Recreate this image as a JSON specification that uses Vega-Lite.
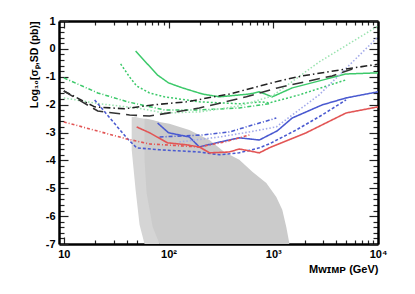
{
  "$schema": "https://vega.github.io/schema/vega-lite/v6.json",
  "width": 319,
  "height": 223,
  "autosize": "none",
  "padding": {"left": 59, "top": 21, "right": 37, "bottom": 50},
  "background": "white",
  "config": {
    "view": {"stroke": null},
    "font": "Liberation Sans",
    "axis": {
      "grid": false,
      "domainColor": "#000000",
      "domainWidth": 2.5,
      "tickColor": "#222222",
      "tickWidth": 1.2,
      "labelFont": "Liberation Sans",
      "labelFontWeight": "bold",
      "labelFontSize": 11,
      "labelColor": "#000000",
      "titleFont": "Liberation Sans",
      "titleFontWeight": "bold",
      "titleFontSize": 11,
      "titleColor": "#000000",
      "labelOverlap": false,
      "labelFlush": false,
      "labelBound": false,
      "zindex": 1
    }
  },
  "datasets": {
    "speckle": [
      {"m": 44.5, "top": -2.44, "bottom": -3.62},
      {"m": 48.5, "top": -2.44, "bottom": -5.06},
      {"m": 52.9, "top": -2.48, "bottom": -6.31},
      {"m": 59, "top": -2.51, "bottom": -7},
      {"m": 82.1, "top": -2.62, "bottom": -7}
    ],
    "cloud": [
      {"m": 59, "top": -2.51, "bottom": -3.98},
      {"m": 61.7, "top": -2.51, "bottom": -5.16},
      {"m": 70.5, "top": -2.55, "bottom": -6.38},
      {"m": 82.1, "top": -2.62, "bottom": -7},
      {"m": 102, "top": -2.69, "bottom": -7},
      {"m": 158, "top": -2.91, "bottom": -7},
      {"m": 246, "top": -3.27, "bottom": -7},
      {"m": 341, "top": -3.70, "bottom": -7},
      {"m": 474, "top": -3.98, "bottom": -7},
      {"m": 631, "top": -4.41, "bottom": -7},
      {"m": 858, "top": -4.81, "bottom": -7},
      {"m": 1069, "top": -5.31, "bottom": -7},
      {"m": 1219, "top": -5.77, "bottom": -7},
      {"m": 1330, "top": -6.38, "bottom": -7},
      {"m": 1420, "top": -6.95, "bottom": -7}
    ],
    "limits": [
      {"s": "G1", "m": 48.5, "v": -0.08}, {"s": "G1", "m": 78.6, "v": -0.94}, {"s": "G1", "m": 100, "v": -1.22}, {"s": "G1", "m": 136, "v": -1.40}, {"s": "G1", "m": 211, "v": -1.62}, {"s": "G1", "m": 306, "v": -1.72}, {"s": "G1", "m": 591, "v": -1.62}, {"s": "G1", "m": 736, "v": -1.54}, {"s": "G1", "m": 978, "v": -1.72}, {"s": "G1", "m": 1517, "v": -1.40}, {"s": "G1", "m": 4955, "v": -0.90}, {"s": "G1", "m": 10000, "v": -0.86},
      {"s": "G2", "m": 34.9, "v": -0.54}, {"s": "G2", "m": 42.5, "v": -1.01}, {"s": "G2", "m": 49.6, "v": -1.33}, {"s": "G2", "m": 65.9, "v": -1.58}, {"s": "G2", "m": 91.6, "v": -1.72}, {"s": "G2", "m": 197, "v": -1.90}, {"s": "G2", "m": 474, "v": -1.97}, {"s": "G2", "m": 769, "v": -1.90}, {"s": "G2", "m": 916, "v": -1.94}, {"s": "G2", "m": 1770, "v": -1.65}, {"s": "G2", "m": 4955, "v": -1.11},
      {"s": "G3", "m": 10, "v": -1.04}, {"s": "G3", "m": 21.1, "v": -1.58}, {"s": "G3", "m": 40.7, "v": -1.90}, {"s": "G3", "m": 91.6, "v": -2.19}, {"s": "G3", "m": 197, "v": -2.19}, {"s": "G3", "m": 474, "v": -2.12}, {"s": "G3", "m": 916, "v": -1.97},
      {"s": "G4", "m": 10, "v": -1.76}, {"s": "G4", "m": 22, "v": -1.97}, {"s": "G4", "m": 49.6, "v": -2.12}, {"s": "G4", "m": 91.6, "v": -2.30}, {"s": "G4", "m": 197, "v": -2.26}, {"s": "G4", "m": 474, "v": -2.05}, {"s": "G4", "m": 978, "v": -1.69}, {"s": "G4", "m": 2742, "v": -0.47}, {"s": "G4", "m": 10000, "v": 0.82},
      {"s": "K1", "m": 10, "v": -1.51}, {"s": "K1", "m": 19.7, "v": -2.08}, {"s": "K1", "m": 38.1, "v": -2.15}, {"s": "K1", "m": 70.5, "v": -2.01}, {"s": "K1", "m": 148, "v": -1.90}, {"s": "K1", "m": 381, "v": -1.62}, {"s": "K1", "m": 1141, "v": -1.15}, {"s": "K1", "m": 1890, "v": -0.97}, {"s": "K1", "m": 4254, "v": -0.76}, {"s": "K1", "m": 10000, "v": -0.55},
      {"s": "K2", "m": 10, "v": -1.51}, {"s": "K2", "m": 21.1, "v": -2.23}, {"s": "K2", "m": 42.5, "v": -2.37}, {"s": "K2", "m": 65.9, "v": -2.41}, {"s": "K2", "m": 197, "v": -2.12}, {"s": "K2", "m": 553, "v": -1.72}, {"s": "K2", "m": 1092, "v": -1.40}, {"s": "K2", "m": 3648, "v": -0.97}, {"s": "K2", "m": 6166, "v": -0.68},
      {"s": "B1", "m": 78.6, "v": -2.66}, {"s": "B1", "m": 100, "v": -3.01}, {"s": "B1", "m": 158, "v": -3.16}, {"s": "B1", "m": 197, "v": -3.52}, {"s": "B1", "m": 286, "v": -3.37}, {"s": "B1", "m": 474, "v": -3.19}, {"s": "B1", "m": 736, "v": -3.27}, {"s": "B1", "m": 1092, "v": -2.94}, {"s": "B1", "m": 1517, "v": -2.48}, {"s": "B1", "m": 2929, "v": -2.01}, {"s": "B1", "m": 4955, "v": -1.76}, {"s": "B1", "m": 10000, "v": -1.54},
      {"s": "B2", "m": 19.7, "v": -1.83}, {"s": "B2", "m": 39.8, "v": -3.19}, {"s": "B2", "m": 49.6, "v": -3.55}, {"s": "B2", "m": 82.1, "v": -3.62}, {"s": "B2", "m": 197, "v": -3.70}, {"s": "B2", "m": 306, "v": -3.80}, {"s": "B2", "m": 474, "v": -3.73}, {"s": "B2", "m": 736, "v": -3.55}, {"s": "B2", "m": 916, "v": -3.41}, {"s": "B2", "m": 1656, "v": -2.91}, {"s": "B2", "m": 2929, "v": -2.37}, {"s": "B2", "m": 4955, "v": -1.83},
      {"s": "B3", "m": 82.1, "v": -3.16}, {"s": "B3", "m": 211, "v": -3.09}, {"s": "B3", "m": 381, "v": -2.98}, {"s": "B3", "m": 1069, "v": -2.48},
      {"s": "B4", "m": 127, "v": -3.34}, {"s": "B4", "m": 306, "v": -3.16}, {"s": "B4", "m": 591, "v": -2.98}, {"s": "B4", "m": 1069, "v": -2.80}, {"s": "B4", "m": 2742, "v": -1.65}, {"s": "B4", "m": 10000, "v": 0.43},
      {"s": "R1", "m": 49.6, "v": -2.80}, {"s": "R1", "m": 65.9, "v": -3.01}, {"s": "R1", "m": 97.8, "v": -3.37}, {"s": "R1", "m": 148, "v": -3.44}, {"s": "R1", "m": 197, "v": -3.52}, {"s": "R1", "m": 246, "v": -3.73}, {"s": "R1", "m": 381, "v": -3.70}, {"s": "R1", "m": 474, "v": -3.59}, {"s": "R1", "m": 736, "v": -3.73}, {"s": "R1", "m": 916, "v": -3.55}, {"s": "R1", "m": 2062, "v": -3.01}, {"s": "R1", "m": 4955, "v": -2.30}, {"s": "R1", "m": 10000, "v": -2.08},
      {"s": "R2", "m": 10, "v": -2.62}, {"s": "R2", "m": 39.8, "v": -3.23}, {"s": "R2", "m": 65.9, "v": -3.41}, {"s": "R2", "m": 197, "v": -3.52}, {"s": "R2", "m": 341, "v": -3.34}, {"s": "R2", "m": 591, "v": -3.09}
    ]
  },
  "layer": [
    {
      "data": {"name": "speckle"},
      "mark": {"type": "area", "color": "#d5d5d5", "orient": "vertical"},
      "encoding": {
        "x": {
          "field": "m", "type": "quantitative",
          "scale": {"type": "log", "domain": [9, 10000], "nice": false},
          "axis": {
            "orient": "bottom", "offset": -7, "domain": false, "ticks": true, "tickSize": 7,
            "values": [10, 100, 1000, 10000],
            "labelPadding": 4,
            "labelExpr": "datum.value == 10 ? '10' : datum.value == 100 ? '10²' : datum.value == 1000 ? '10³' : '10⁴'",
            "title": "Mᴡɪᴍᴘ (GeV)", "titleAnchor": "end", "titleAlign": "right", "titlePadding": 4
          }
        },
        "y": {
          "field": "top", "type": "quantitative",
          "scale": {"domain": [-7, 1], "nice": false, "zero": false},
          "axis": {
            "orient": "left", "offset": -9, "domain": false, "ticks": true, "tickSize": 9,
            "values": [-7, -6, -5, -4, -3, -2, -1, 0, 1],
            "labelPadding": 4,
            "labelExpr": "'' + datum.value",
            "title": "Log₁₀[σₚ,SD (pb)]", "titleAnchor": "end", "titlePadding": 6, "titleFontSize": 10.5
          }
        },
        "y2": {"field": "bottom"}
      }
    },
    {
      "data": {"name": "cloud"},
      "mark": {"type": "area", "color": "#cbcbcb", "orient": "vertical"},
      "encoding": {
        "x": {
          "field": "m", "type": "quantitative",
          "scale": {"type": "log", "domain": [9, 10000], "nice": false},
          "axis": {
            "orient": "bottom", "offset": -4, "domain": false, "ticks": true, "tickSize": 4, "labels": false, "title": null,
            "values": [20, 30, 40, 50, 60, 70, 80, 90, 200, 300, 400, 500, 600, 700, 800, 900, 2000, 3000, 4000, 5000, 6000, 7000, 8000, 9000]
          }
        },
        "y": {
          "field": "top", "type": "quantitative",
          "scale": {"domain": [-7, 1], "nice": false, "zero": false},
          "axis": {
            "orient": "left", "offset": -5, "domain": false, "ticks": true, "tickSize": 5, "labels": false, "title": null,
            "values": [-6.8, -6.6, -6.4, -6.2, -5.8, -5.6, -5.4, -5.2, -4.8, -4.6, -4.4, -4.2, -3.8, -3.6, -3.4, -3.2, -2.8, -2.6, -2.4, -2.2, -1.8, -1.6, -1.4, -1.2, -0.8, -0.6, -0.4, -0.2, 0.2, 0.4, 0.6, 0.8]
          }
        },
        "y2": {"field": "bottom"}
      }
    },
    {
      "data": {"name": "limits"},
      "transform": [{"filter": "indexof(['G1', 'G2', 'G3', 'G4'], datum.s) >= 0"}],
      "mark": {"type": "line", "interpolate": "linear", "clip": true},
      "encoding": {
        "x": {
          "field": "m", "type": "quantitative",
          "scale": {"type": "log", "domain": [9, 10000], "nice": false},
          "axis": {"orient": "top", "offset": -7, "domain": false, "ticks": true, "tickSize": 7, "labels": false, "title": null, "values": [10, 100, 1000, 10000]}
        },
        "y": {
          "field": "v", "type": "quantitative",
          "scale": {"domain": [-7, 1], "nice": false, "zero": false},
          "axis": {"orient": "right", "offset": -9, "domain": false, "ticks": true, "tickSize": 9, "labels": false, "title": null, "values": [-7, -6, -5, -4, -3, -2, -1, 0, 1]}
        },
        "color": {"field": "s", "type": "nominal", "legend": null, "scale": {"domain": ["G1", "G2", "G3", "G4", "K1", "K2", "B1", "B2", "B3", "B4", "R1", "R2"], "range": ["#3cc96a", "#3cc96a", "#3cc96a", "#9be3b0", "#222222", "#333333", "#4a5ad0", "#4a5ad0", "#4a5ad0", "#a3aaea", "#e25555", "#e25555"]}},
        "strokeDash": {"field": "s", "type": "nominal", "legend": null, "scale": {"domain": ["G1", "G2", "G3", "G4", "K1", "K2", "B1", "B2", "B3", "B4", "R1", "R2"], "range": [[1, 0], [2, 2], [4, 2, 1, 2], [1.5, 2], [7, 3, 1.5, 3], [11, 6], [1, 0], [3, 2], [4, 2, 1, 2], [1.5, 2], [1, 0], [3, 2, 1, 2]]}},
        "strokeWidth": {"field": "s", "type": "nominal", "legend": null, "scale": {"domain": ["G1", "G2", "G3", "G4", "K1", "K2", "B1", "B2", "B3", "B4", "R1", "R2"], "range": [1.5, 1.6, 1.4, 1.1, 1.4, 1.7, 1.5, 1.5, 1.4, 1.1, 1.4, 1.4]}}
      }
    },
    {
      "data": {"name": "limits"},
      "transform": [{"filter": "indexof(['B1', 'B2', 'B3', 'B4'], datum.s) >= 0"}],
      "mark": {"type": "line", "interpolate": "linear", "clip": true},
      "encoding": {
        "x": {
          "field": "m", "type": "quantitative",
          "scale": {"type": "log", "domain": [9, 10000], "nice": false},
          "axis": {
            "orient": "top", "offset": -4, "domain": false, "ticks": true, "tickSize": 4, "labels": false, "title": null,
            "values": [20, 30, 40, 50, 60, 70, 80, 90, 200, 300, 400, 500, 600, 700, 800, 900, 2000, 3000, 4000, 5000, 6000, 7000, 8000, 9000]
          }
        },
        "y": {
          "field": "v", "type": "quantitative",
          "scale": {"domain": [-7, 1], "nice": false, "zero": false},
          "axis": {
            "orient": "right", "offset": -5, "domain": false, "ticks": true, "tickSize": 5, "labels": false, "title": null,
            "values": [-6.8, -6.6, -6.4, -6.2, -5.8, -5.6, -5.4, -5.2, -4.8, -4.6, -4.4, -4.2, -3.8, -3.6, -3.4, -3.2, -2.8, -2.6, -2.4, -2.2, -1.8, -1.6, -1.4, -1.2, -0.8, -0.6, -0.4, -0.2, 0.2, 0.4, 0.6, 0.8]
          }
        },
        "color": {"field": "s", "type": "nominal", "legend": null, "scale": {"domain": ["G1", "G2", "G3", "G4", "K1", "K2", "B1", "B2", "B3", "B4", "R1", "R2"], "range": ["#3cc96a", "#3cc96a", "#3cc96a", "#9be3b0", "#222222", "#333333", "#4a5ad0", "#4a5ad0", "#4a5ad0", "#a3aaea", "#e25555", "#e25555"]}},
        "strokeDash": {"field": "s", "type": "nominal", "legend": null, "scale": {"domain": ["G1", "G2", "G3", "G4", "K1", "K2", "B1", "B2", "B3", "B4", "R1", "R2"], "range": [[1, 0], [2, 2], [4, 2, 1, 2], [1.5, 2], [7, 3, 1.5, 3], [11, 6], [1, 0], [3, 2], [4, 2, 1, 2], [1.5, 2], [1, 0], [3, 2, 1, 2]]}},
        "strokeWidth": {"field": "s", "type": "nominal", "legend": null, "scale": {"domain": ["G1", "G2", "G3", "G4", "K1", "K2", "B1", "B2", "B3", "B4", "R1", "R2"], "range": [1.5, 1.6, 1.4, 1.1, 1.4, 1.7, 1.5, 1.5, 1.4, 1.1, 1.4, 1.4]}}
      }
    },
    {
      "data": {"name": "limits"},
      "transform": [{"filter": "indexof(['R1', 'R2'], datum.s) >= 0"}],
      "mark": {"type": "line", "interpolate": "linear", "clip": true},
      "encoding": {
        "x": {
          "field": "m", "type": "quantitative",
          "scale": {"type": "log", "domain": [9, 10000], "nice": false},
          "axis": {"orient": "bottom", "domain": true, "ticks": false, "labels": false, "title": null}
        },
        "y": {
          "field": "v", "type": "quantitative",
          "scale": {"domain": [-7, 1], "nice": false, "zero": false},
          "axis": {"orient": "left", "domain": true, "ticks": false, "labels": false, "title": null}
        },
        "color": {"field": "s", "type": "nominal", "legend": null, "scale": {"domain": ["G1", "G2", "G3", "G4", "K1", "K2", "B1", "B2", "B3", "B4", "R1", "R2"], "range": ["#3cc96a", "#3cc96a", "#3cc96a", "#9be3b0", "#222222", "#333333", "#4a5ad0", "#4a5ad0", "#4a5ad0", "#a3aaea", "#e25555", "#e25555"]}},
        "strokeDash": {"field": "s", "type": "nominal", "legend": null, "scale": {"domain": ["G1", "G2", "G3", "G4", "K1", "K2", "B1", "B2", "B3", "B4", "R1", "R2"], "range": [[1, 0], [2, 2], [4, 2, 1, 2], [1.5, 2], [7, 3, 1.5, 3], [11, 6], [1, 0], [3, 2], [4, 2, 1, 2], [1.5, 2], [1, 0], [3, 2, 1, 2]]}},
        "strokeWidth": {"field": "s", "type": "nominal", "legend": null, "scale": {"domain": ["G1", "G2", "G3", "G4", "K1", "K2", "B1", "B2", "B3", "B4", "R1", "R2"], "range": [1.5, 1.6, 1.4, 1.1, 1.4, 1.7, 1.5, 1.5, 1.4, 1.1, 1.4, 1.4]}}
      }
    },
    {
      "data": {"name": "limits"},
      "transform": [{"filter": "indexof(['K1', 'K2'], datum.s) >= 0"}],
      "mark": {"type": "line", "interpolate": "linear", "clip": true},
      "encoding": {
        "x": {
          "field": "m", "type": "quantitative",
          "scale": {"type": "log", "domain": [9, 10000], "nice": false},
          "axis": {"orient": "top", "domain": true, "ticks": false, "labels": false, "title": null}
        },
        "y": {
          "field": "v", "type": "quantitative",
          "scale": {"domain": [-7, 1], "nice": false, "zero": false},
          "axis": {"orient": "right", "domain": true, "ticks": false, "labels": false, "title": null}
        },
        "color": {"field": "s", "type": "nominal", "legend": null, "scale": {"domain": ["G1", "G2", "G3", "G4", "K1", "K2", "B1", "B2", "B3", "B4", "R1", "R2"], "range": ["#3cc96a", "#3cc96a", "#3cc96a", "#9be3b0", "#222222", "#333333", "#4a5ad0", "#4a5ad0", "#4a5ad0", "#a3aaea", "#e25555", "#e25555"]}},
        "strokeDash": {"field": "s", "type": "nominal", "legend": null, "scale": {"domain": ["G1", "G2", "G3", "G4", "K1", "K2", "B1", "B2", "B3", "B4", "R1", "R2"], "range": [[1, 0], [2, 2], [4, 2, 1, 2], [1.5, 2], [7, 3, 1.5, 3], [11, 6], [1, 0], [3, 2], [4, 2, 1, 2], [1.5, 2], [1, 0], [3, 2, 1, 2]]}},
        "strokeWidth": {"field": "s", "type": "nominal", "legend": null, "scale": {"domain": ["G1", "G2", "G3", "G4", "K1", "K2", "B1", "B2", "B3", "B4", "R1", "R2"], "range": [1.5, 1.6, 1.4, 1.1, 1.4, 1.7, 1.5, 1.5, 1.4, 1.1, 1.4, 1.4]}}
      }
    }
  ],
  "resolve": {"axis": {"x": "independent", "y": "independent"}}
}
